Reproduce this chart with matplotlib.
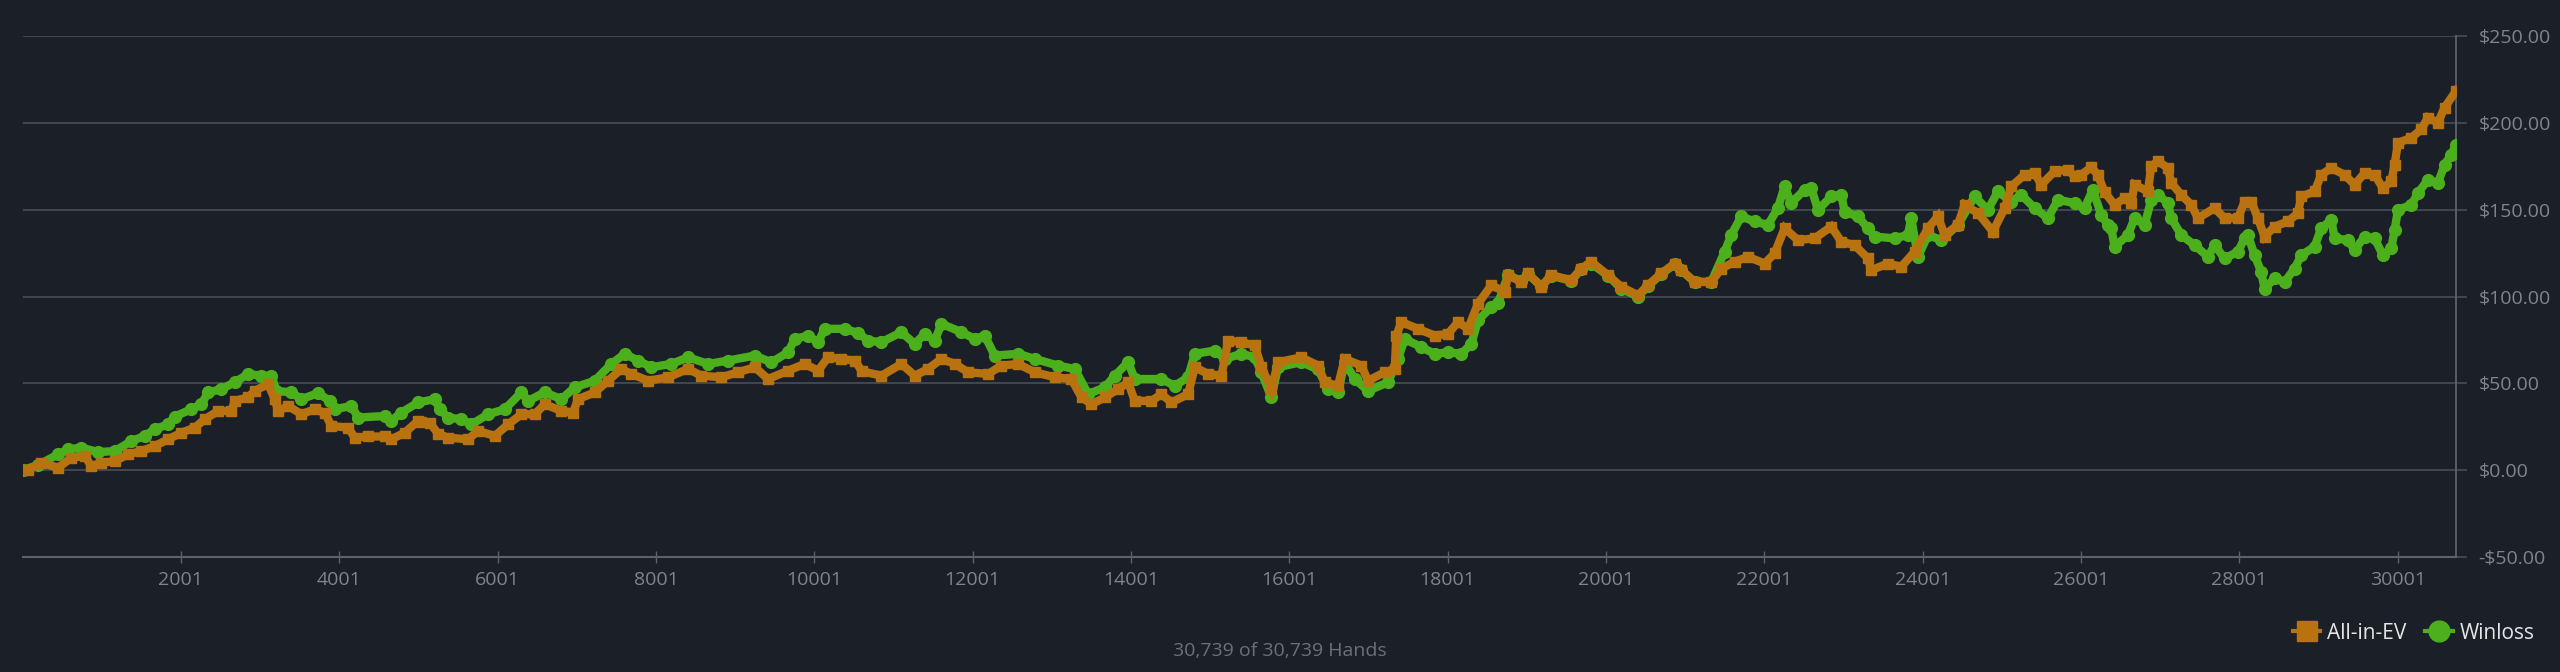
import numpy as np
import matplotlib.pyplot as plt
from matplotlib.lines import Line2D
from matplotlib.ticker import FuncFormatter

plt.rcParams['font.family'] = ['Open Sans', 'DejaVu Sans']

#%% Data (hand number, running total in $)
ev_hands = [1, 72, 240, 451, 619, 787, 871, 998, 1166, 1335, 1503, 1671, 1840, 2008,
            2176, 2303, 2471, 2640, 2682, 2850, 2934, 3103, 3187, 3229, 3356, 3524,
            3692, 3818, 3903, 4113, 4197, 4366, 4576, 4660, 4829, 4997, 5039, 5150,
            5250, 5376, 5629, 5755, 5966, 6135, 6303, 6471, 6597, 6808, 6955, 7018,
            7229, 7397, 7566, 7692, 7903, 8155, 8408, 8576, 8829, 9039, 9250, 9418,
            9671, 9881, 10050, 10176, 10344, 10520, 10600, 10850, 11102, 11271, 11439,
            11608, 11776, 11944, 12197, 12365, 12576, 12787, 13040, 13250, 13377,
            13503, 13671, 13840, 13966, 14050, 14261, 14387, 14513, 14723, 14808,
            14976, 15145, 15229, 15397, 15566, 15650, 15776, 15860, 16154, 16365,
            16449, 16617, 16701, 16912, 16996, 17206, 17333, 17354, 17417, 17627,
            17838, 18006, 18133, 18259, 18385, 18554, 18722, 18764, 18932, 19016,
            19185, 19311, 19564, 19690, 19816, 20027, 20195, 20406, 20532, 20701,
            20869, 20953, 21121, 21332, 21458, 21626, 21795, 22005, 22131, 22258,
            22426, 22637, 22847, 22974, 23142, 23310, 23352, 23563, 23731, 23900,
            24068, 24194, 24279, 24447, 24531, 24700, 24889, 25037, 25121, 25289,
            25416, 25500, 25668, 25836, 25921, 26005, 26131, 26215, 26300, 26426,
            26552, 26636, 26678, 26847, 26889, 26973, 27100, 27142, 27268, 27394,
            27478, 27689, 27815, 27984, 28068, 28152, 28236, 28320, 28447, 28615,
            28742, 28784, 28952, 29036, 29163, 29331, 29457, 29584, 29710, 29815,
            29921, 29963, 30005, 30173, 30299, 30383, 30510, 30594, 30739]
ev_vals = [0, 0, 4.3, 1.4, 7.2, 8.1, 2.3, 4.3, 5.2, 9.1, 11, 13.9, 17.8, 21.6,
           24.5, 29.3, 34.1, 34.1, 39.9, 41.9, 45.7, 49.6, 40.9, 34.1, 37, 32.2,
           35.1, 33, 25.5, 24.5, 18.8, 19.4, 19.4, 17.8, 21.6, 28.4, 28, 27,
           21, 18.7, 17.8, 22.6, 19.7, 26.4, 32.2, 32.2, 38, 34.1, 33.2, 40.9,
           44.8, 51.5, 58.3, 55.4, 51.5, 53.5, 58.3, 54.4, 53.5, 56.4, 59.3, 52.5,
           57.3, 61.2, 57.3, 65, 64.1, 63, 57, 54.4, 61.2, 54.4, 58.3,
           64.1, 61.2, 56.4, 55.4, 60.2, 61.2, 56.4, 53.5, 52.5, 41.9,
           38, 41.9, 46.7, 50.6, 39.9, 39.9, 43.8, 39, 43.8, 59.3,
           55.4, 54.4, 74.6, 73.7, 71.8, 59.3, 46.7, 62.2, 65, 60.2,
           50.6, 48.6, 64.1, 60.2, 51.5, 56.4, 58.3, 77.5, 85.3, 81.4,
           77.5, 78.5, 85.3, 81.4, 95.9, 106.5, 102.7, 112.3, 108.4, 113.3,
           105.6, 112.3, 109.4, 116.1, 120, 112.3, 105.6, 100.7, 106.5, 113.3,
           119, 115.2, 108.4, 108.4, 116.1, 120, 122.9, 119, 124.8, 139.3,
           132.5, 133.5, 140.3, 131.6, 129.6, 122, 115.2, 119, 117.1, 125.8,
           139.3, 146.1, 135.4, 141.2, 152.8, 148, 137.4, 150.9, 163.4, 170.1,
           171.1, 164.4, 172.1, 173, 169.2, 170.1, 174.5, 170, 160, 152.8,
           156.7, 153.8, 164.4, 160.5, 175, 177.9, 174, 165.3, 158.6, 152.8,
           145.1, 150.9, 145.1, 145.1, 154.7, 154.7, 145.1, 134.5, 140.3, 143.2,
           148, 157.6, 160.5, 170.1, 174, 170.1, 164.4, 171.1, 170.1, 162.4,
           166.3, 175.9, 188.5, 191.4, 196.2, 203, 200.1, 208.8, 218.4]

wl_hands = [1, 200, 451, 577, 745, 956, 1166, 1377, 1545, 1671, 1840, 1924, 2134,
            2261, 2345, 2513, 2682, 2850, 3019, 3145, 3208, 3397, 3524, 3734, 3882,
            3945, 4155, 4240, 4576, 4660, 4787, 4997, 5208, 5271, 5376, 5545, 5671,
            5882, 6092, 6303, 6387, 6597, 6808, 6976, 7229, 7439, 7608, 7776, 7945,
            8197, 8408, 8660, 8913, 9250, 9460, 9671, 9755, 9923, 10050, 10134,
            10387, 10555, 10681, 10850, 11102, 11271, 11397, 11523, 11608, 11860,
            12029, 12155, 12281, 12576, 12787, 13082, 13292, 13461, 13671, 13797,
            13966, 14050, 14387, 14555, 14723, 14808, 15060, 15187, 15397, 15566,
            15649, 15775, 15859, 16154, 16365, 16491, 16617, 16701, 16828, 16996,
            17248, 17375, 17459, 17669, 17838, 18006, 18175, 18301, 18385, 18554,
            18638, 18764, 18932, 19016, 19185, 19311, 19564, 19690, 19816, 20027,
            20195, 20406, 20532, 20701, 20869, 20953, 21121, 21332, 21500, 21584,
            21710, 21879, 22047, 22173, 22258, 22342, 22510, 22595, 22679, 22847,
            22974, 23016, 23184, 23310, 23394, 23647, 23815, 23857, 23942, 24068,
            24237, 24447, 24658, 24826, 24952, 25121, 25247, 25416, 25584, 25710,
            25921, 26047, 26150, 26257, 26341, 26384, 26426, 26594, 26678, 26805,
            26889, 26973, 27100, 27142, 27268, 27436, 27605, 27689, 27815, 27984,
            28068, 28110, 28194, 28278, 28320, 28447, 28573, 28700, 28784, 28952,
            29036, 29163, 29205, 29373, 29457, 29584, 29710, 29815, 29921, 29963,
            30005, 30173, 30257, 30383, 30510, 30594, 30678, 30739]
wl_vals = [0, 3, 9.1, 12, 13, 10.4, 11, 16.8, 19.7, 23.6, 26.4, 30.9, 35.1,
           38, 44.8, 46.7, 50.6, 55.4, 54.4, 54.4, 45.7, 44.8, 40.9, 44.4, 39.9,
           35.1, 37, 30.3, 31.2, 28.4, 33.2, 39, 40.9, 35.1, 30.3, 29.3, 26.4,
           32.2, 35.1, 44.8, 39.9, 44.8, 40.9, 47.7, 51.5, 61.2, 67, 63.1, 59.3,
           61.2, 65, 61.2, 63.1, 66, 62.1, 67.9, 75.6, 77.5, 73.7, 81.4,
           81.4, 79, 74.6, 73.7, 79.5, 72.7, 78.5, 74.6, 84.3, 79.5,
           75.6, 77.5, 66, 67, 64.1, 60.2, 58.3, 43.8, 47.7, 54.4,
           62.2, 52.5, 52.5, 48.6, 53.5, 67, 68.9, 64.1, 67, 65,
           56.4, 41.9, 59.3, 62.2, 58, 46.7, 44.8, 62.2, 52.5, 45.7,
           50.6, 64.1, 75.6, 70.8, 67, 67.9, 67, 72.7, 86.3, 94,
           96, 112.3, 109, 113, 106, 112, 109, 116, 119, 112,
           104.5, 100, 106, 113, 118.5, 115.2, 108.4, 108.4, 125.8, 135.4,
           146.1, 143.2, 141.2, 150.9, 163.4, 153.8, 161.5, 162.4, 149.9, 157.6,
           158.6, 148.9, 146.1, 139.3, 134.5, 133.5, 135.4, 145.1, 122.9, 135.4,
           132.5, 141.2, 157.6, 149.9, 160.5, 154.7, 158.6, 150.9, 145.1, 155.7,
           153.8, 150.9, 161.5, 147, 141.2, 139.3, 128.7, 135.4, 145.1, 141.2,
           155.7, 158.6, 153.8, 145.1, 135.4, 129.6, 122.9, 129.6, 121.9, 125.8,
           133.5, 135.4, 123.8, 114.2, 104.6, 110.4, 108.4, 116.1, 123.8, 128.7,
           139.3, 144.1, 133.5, 132.5, 126.7, 134.5, 133.5, 123.8, 127.7, 138.3,
           149.9, 152.8, 159.5, 167.2, 165.3, 175.9, 181.7, 187.5]

x_ticks = [2001, 4001, 6001, 8001, 10001, 12001, 14001, 16001, 18001, 20001,
           22001, 24001, 26001, 28001, 30001]
y_ticks = [-50, 0, 50, 100, 150, 200, 250]
total_hands = 30739
footer = '30,739 of 30,739 Hands'

#%% Style
bg = '#1b1f27'
grid_c = '#454a53'
axis_c = '#5c616a'
label_c = '#7f848d'
ev_c = '#b8720f'
wl_c = '#4cb01c'

fig = plt.figure(figsize=(25.6, 6.72), dpi=100, facecolor=bg)
ax = fig.add_axes([0.0088, 0.1711, 0.9506, 0.7753])
ax.set_facecolor(bg)

# thick line + markers to get the dense marker band look
ax.plot(wl_hands, wl_vals, color=wl_c, lw=6, marker='o', ms=8.5,
        solid_joinstyle='round', solid_capstyle='round', zorder=3)
ax.plot(ev_hands, ev_vals, color=ev_c, lw=6, marker='s', ms=7.5,
        solid_joinstyle='miter', zorder=4)

ax.set_xlim(1, total_hands)
ax.set_ylim(-50, 250)
ax.set_xticks(x_ticks)
ax.set_yticks(y_ticks)
ax.yaxis.tick_right()
ax.yaxis.set_major_formatter(FuncFormatter(
    lambda v, p: ('-$%.2f' % abs(v)) if v < 0 else ('$%.2f' % v)))
ax.grid(axis='y', color=grid_c, lw=1.3, zorder=1)
ax.tick_params(axis='x', colors=axis_c, labelcolor=label_c, labelsize=14,
               direction='inout', length=8, width=1, pad=6)
ax.tick_params(axis='y', colors=grid_c, labelcolor=label_c, labelsize=14,
               direction='out', length=8, width=1.3, pad=8)
for lbl in ax.get_yticklabels():
    lbl.set_horizontalalignment('left')

for s in ['top', 'left']:
    ax.spines[s].set_visible(False)
ax.spines['bottom'].set_color(axis_c)
ax.spines['bottom'].set_linewidth(1.5)
ax.spines['right'].set_color(axis_c)
ax.spines['right'].set_linewidth(1.3)

handles = [Line2D([], [], color=ev_c, lw=3, marker='s', ms=14),
           Line2D([], [], color=wl_c, lw=3, marker='o', ms=15)]
fig.legend(handles, ['All-in-EV', 'Winloss'], loc='center right',
           bbox_to_anchor=(0.9975, 0.058), ncol=2, frameon=False,
           fontsize=15, labelcolor='#e6e6e6', handlelength=1.3,
           handletextpad=0.35, columnspacing=0.9)

fig.text(0.5, 0.031, footer, ha='center', va='center', color='#6b7079',
         fontsize=14)

fig.savefig('out.png', dpi=100, facecolor=bg)
